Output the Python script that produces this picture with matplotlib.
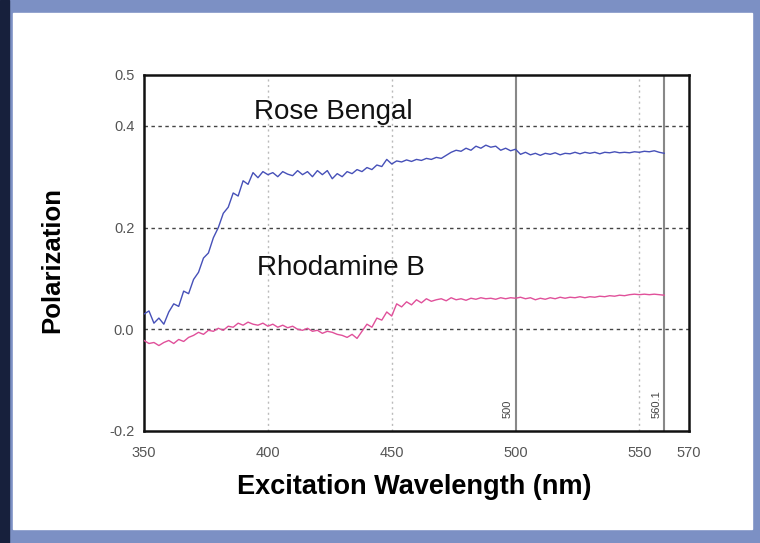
import matplotlib.pyplot as plt
import matplotlib.patches as mpatches
import numpy as np

# excitation wavelengths (nm), 2 nm steps
wavelength = np.arange(350, 562, 2)

rose_bengal = [
    0.030, 0.036, 0.012, 0.022, 0.010, 0.034, 0.050, 0.045, 0.075, 0.070,
    0.098, 0.112, 0.140, 0.150, 0.180, 0.200, 0.228, 0.240, 0.268, 0.262,
    0.292, 0.285, 0.308, 0.298, 0.310, 0.304, 0.308, 0.300, 0.310, 0.305,
    0.302, 0.312, 0.304, 0.310, 0.300, 0.312, 0.304, 0.312, 0.296, 0.306,
    0.300, 0.310, 0.306, 0.314, 0.310, 0.318, 0.314, 0.323, 0.320, 0.334,
    0.325, 0.331, 0.329, 0.333, 0.330, 0.334, 0.332, 0.336, 0.334, 0.338,
    0.336, 0.342, 0.348, 0.352, 0.350, 0.356, 0.352, 0.360, 0.356, 0.362,
    0.358, 0.360, 0.352, 0.356, 0.351, 0.354, 0.344, 0.348, 0.343, 0.346,
    0.342, 0.346, 0.344, 0.347, 0.343, 0.346, 0.345, 0.348, 0.345, 0.348,
    0.346, 0.348, 0.345, 0.348, 0.347, 0.349, 0.347, 0.348, 0.347, 0.349,
    0.348, 0.350, 0.349, 0.351, 0.348, 0.346,
]

rhodamine_b = [
    -0.022, -0.028, -0.026, -0.032, -0.026, -0.022, -0.028, -0.020, -0.024, -0.016,
    -0.012, -0.006, -0.010, -0.002, -0.004, 0.002, -0.002, 0.006, 0.004, 0.012,
    0.008, 0.014, 0.010, 0.008, 0.012, 0.006, 0.010, 0.004, 0.008, 0.003,
    0.006, 0.000, -0.002, 0.002, -0.004, -0.002, -0.008, -0.004, -0.006, -0.010,
    -0.012, -0.016, -0.010, -0.018, -0.004, 0.010, 0.004, 0.022, 0.018, 0.034,
    0.026, 0.050, 0.044, 0.054, 0.048, 0.058, 0.052, 0.060, 0.055, 0.058,
    0.060, 0.056, 0.062, 0.058, 0.060, 0.057, 0.061, 0.059, 0.062, 0.060,
    0.061, 0.059, 0.062, 0.060, 0.062, 0.061, 0.063, 0.060, 0.062, 0.058,
    0.061, 0.059, 0.062, 0.060, 0.063, 0.061, 0.063, 0.062, 0.064, 0.062,
    0.064, 0.063, 0.065, 0.064, 0.066, 0.065, 0.067, 0.066, 0.068, 0.069,
    0.068, 0.069, 0.068, 0.069, 0.068, 0.067,
]

xticks = [350, 400, 450, 500, 550, 570]
yticks = [0.5, 0.4, 0.2, 0.0, -0.2]
ytick_labels = ['0.5', '0.4', '0.2', '0.0', '-0.2']
markers = [500, 560.1]

plt.rcParams['font.family'] = ['Liberation Sans', 'DejaVu Sans']

fig = plt.figure(figsize=(7.6, 5.43), dpi=100)
fig.patch.set_facecolor('#7c90c4')
# white slide panel, dark strip on the left edge
fig.add_artist(mpatches.Rectangle((0, 0), 0.012, 1, transform=fig.transFigure,
                                  color='#17203c', zorder=0))
fig.add_artist(mpatches.Rectangle((0.0165, 0.026), 0.973, 0.950,
                                  transform=fig.transFigure,
                                  color='white', zorder=0))

ax = fig.add_axes([0.1895, 0.2063, 0.717, 0.6556])
ax.set_facecolor('white')

# grid
for y in [0.4, 0.2, 0.0]:
    ax.axhline(y, color='#444444', lw=1.0, ls=(0, (2.5, 2.5)), zorder=1)
for x in [400, 450, 550]:
    ax.axvline(x, color='#bbbbbb', lw=1.0, ls=(0, (1.5, 2.5)), zorder=1)

# cursor lines
for m in markers:
    ax.axvline(m, color='#888888', lw=1.5, zorder=2)
    ax.text(m - 1.2, -0.175, '%g' % m, rotation=90, ha='right', va='bottom',
            fontsize=8, color='#444444')

ax.plot(wavelength, rose_bengal, color='#4650b8', lw=1.0, zorder=3)
ax.plot(wavelength, rhodamine_b, color='#e0509a', lw=1.0, zorder=3)

ax.text(394.5, 0.427, 'Rose Bengal', fontsize=20, va='center', ha='left', color='#111111')
ax.text(395.5, 0.120, 'Rhodamine B', fontsize=20, va='center', ha='left', color='#111111')

ax.set_xlim(350, 570)
ax.set_ylim(-0.2, 0.5)
ax.set_xticks(xticks)
ax.set_yticks(yticks)
ax.set_yticklabels(ytick_labels)
ax.tick_params(length=0, labelsize=10.5, labelcolor='#555555')
ax.tick_params(axis='x', pad=11)
ax.tick_params(axis='y', pad=7)

for s in ax.spines.values():
    s.set_color('#111111')
    s.set_linewidth(1.8)

ax.set_xlabel('Excitation Wavelength (nm)', fontsize=19.5, fontweight='bold')
ax.xaxis.label.set_va('center')
ax.xaxis.set_label_coords(0.495, -0.157)
ax.set_ylabel('Polarization', fontsize=18.5, fontweight='bold')
ax.yaxis.label.set_va('center')
ax.yaxis.set_label_coords(-0.169, 0.48)

fig.savefig('out.png', dpi=100, facecolor=fig.get_facecolor())
